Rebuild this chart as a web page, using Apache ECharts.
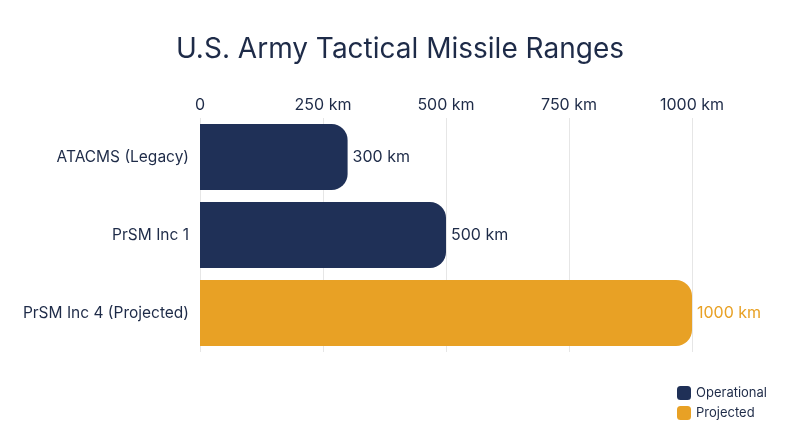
<!DOCTYPE html>
<html>
<head>
<meta charset="utf-8">
<script src="https://cdn.jsdelivr.net/npm/echarts@6/dist/echarts.min.js"></script>
<style>
html, body { margin: 0; padding: 0; background: #fff; }
#chart { width: 800px; height: 447px; }
</style>
</head>
<body>
<div id="chart"></div>
<script>
var navy = '#1F3057';
var orange = '#E8A125';
var textColor = '#1E2B48';

// 数据
var categories = ['ATACMS (Legacy)', 'PrSM Inc 1', 'PrSM Inc 4 (Projected)'];
var operational = [300, 500, null];
var projected = [null, null, 1000];
var seriesNames = ['Operational', 'Projected'];

var chart = echarts.init(document.getElementById('chart'));
var option = {
	backgroundColor: '#fff',
	textStyle: { fontFamily: 'Inter' },
	title: {
		text: 'U.S. Army Tactical Missile Ranges',
		left: 'center',
		top: 31,
		textStyle: { fontSize: 28, fontWeight: 'normal', color: textColor, fontFamily: 'Inter' }
	},
	legend: {
		orient: 'vertical',
		right: 28,
		top: 381,
		itemWidth: 14,
		itemHeight: 14,
		itemGap: 6,
		icon: 'roundRect',
		textStyle: { fontSize: 13, color: textColor },
		data: seriesNames
	},
	grid: { left: 200, right: 108, top: 118, bottom: 95 },
	xAxis: {
		type: 'value',
		position: 'top',
		min: 0,
		max: 1000,
		interval: 250,
		axisLine: { show: false },
		axisTick: { show: false },
		splitLine: { lineStyle: { color: '#E6E6E6' } },
		axisLabel: {
			color: textColor,
			fontSize: 16,
			margin: 5,
			formatter: function (v) { return v === 0 ? '0' : v + ' km'; }
		}
	},
	yAxis: {
		type: 'category',
		inverse: true,
		data: categories,
		axisLine: { show: false },
		axisTick: { show: false },
		axisLabel: { color: textColor, fontSize: 15.5, margin: 11 }
	},
	series: [{
		name: seriesNames[0],
		type: 'bar',
		stack: 'r',
		barWidth: 66,
		data: operational,
		itemStyle: { color: navy, borderRadius: [0, 16, 16, 0] },
		label: { show: true, position: 'right', distance: 5, color: textColor, fontSize: 16, formatter: '{c} km' }
	}, {
		name: seriesNames[1],
		type: 'bar',
		stack: 'r',
		barWidth: 66,
		data: projected,
		itemStyle: { color: orange, borderRadius: [0, 16, 16, 0] },
		label: { show: true, position: 'right', distance: 5, color: orange, fontSize: 16, formatter: '{c} km' }
	}]
};
chart.setOption(option);
</script>
</body>
</html>
